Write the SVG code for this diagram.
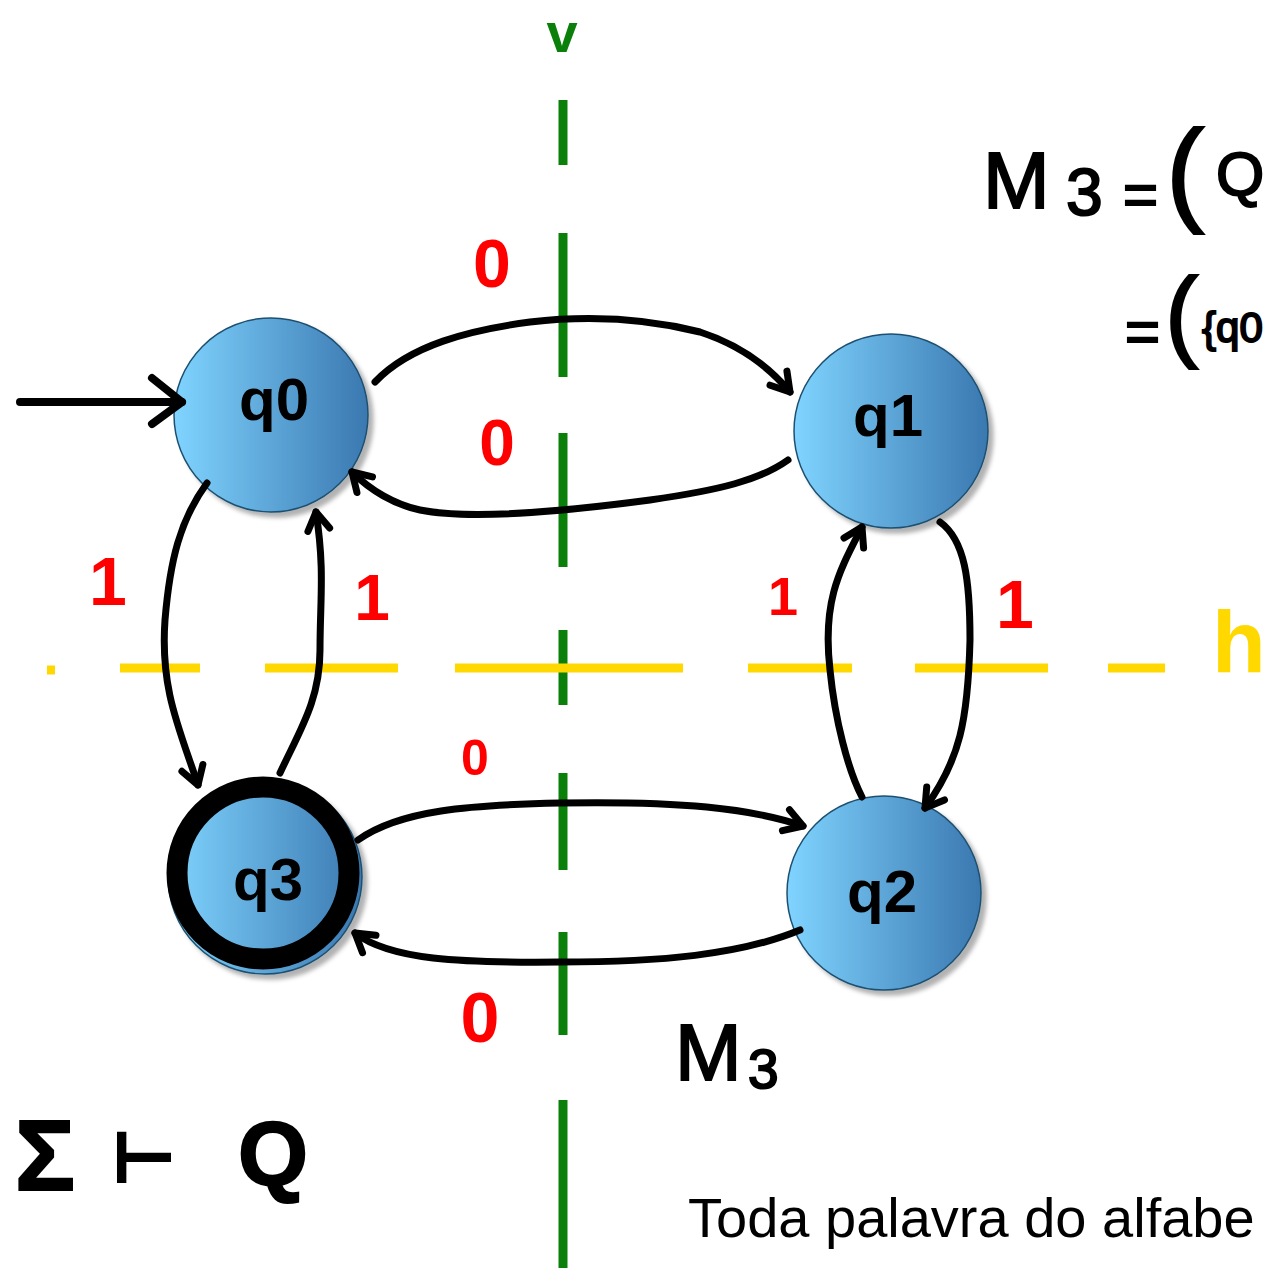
<svg xmlns="http://www.w3.org/2000/svg" width="1269" height="1268" viewBox="0 0 1269 1268">
<style>
.node{fill:url(#g);stroke:#1e5070;stroke-width:1.5;filter:url(#sh)}
.lbl{font-family:"Liberation Sans",Arial,sans-serif;font-weight:bold;font-size:60px;fill:#000;text-anchor:middle}
.edge{fill:none;stroke:#000;stroke-width:7;stroke-linecap:round;stroke-linejoin:round;marker-end:url(#ah)}
.red{font-family:"Liberation Sans",Arial,sans-serif;font-weight:bold;fill:#ff0000;text-anchor:middle}
.hand{font-family:"Liberation Sans","DejaVu Sans",sans-serif;fill:#000;stroke:#000;stroke-width:2}
.plain{font-family:"Liberation Sans",Arial,sans-serif;fill:#000}
.vline{fill:none;stroke:#0a800a;stroke-width:9}
.hline{fill:none;stroke:#ffd800;stroke-width:9}
</style>
<defs>
<linearGradient id="g" x1="0" y1="0" x2="1" y2="0">
<stop offset="0" stop-color="#80d4ff"/>
<stop offset="1" stop-color="#3a78b0"/>
</linearGradient>
<filter id="sh" x="-20%" y="-20%" width="150%" height="150%">
<feDropShadow dx="5" dy="5" stdDeviation="2" flood-color="#000" flood-opacity="0.3"/>
</filter>
<marker id="ah" viewBox="-4 -14 30 28" refX="20" refY="0" markerWidth="30" markerHeight="28" markerUnits="userSpaceOnUse" orient="auto" style="overflow:visible">
<path d="M2,-11 L20,0 L2,11" fill="none" stroke="#000" stroke-width="7" stroke-linecap="round" stroke-linejoin="round"/>
</marker>
<marker id="ahbig" viewBox="-4 -28 40 56" refX="30" refY="0" markerWidth="40" markerHeight="56" markerUnits="userSpaceOnUse" orient="auto" style="overflow:visible">
<path d="M0,-24 L30,0 L0,22" fill="none" stroke="#000" stroke-width="8" stroke-linecap="round" stroke-linejoin="round"/>
</marker>
</defs>
<rect width="1269" height="1268" fill="#fff"/>

<g id="axes">
<path class="vline" d="M563,100 V165 M563,233 V377 M563,433 V567 M563,630 V705 M563,773 V870 M563,932 V1035 M563,1100 V1268"/>
<path class="hline" d="M47,670 H55 M120,668 H200 M265,668 H398 M455,668 H683 M748,668 H852 M915,668 H1048 M1108,668 H1165"/>
<text x="562" y="52" font-family="Liberation Sans,sans-serif" font-weight="bold" font-size="56" fill="#0a800a" text-anchor="middle">v</text>
<text x="1212" y="672" font-family="Liberation Sans,sans-serif" font-weight="bold" font-size="88" fill="#ffd800">h</text>
</g>

<g id="q0"><circle class="node" cx="271" cy="415" r="97"/><text class="lbl" x="274" y="420">q0</text></g>
<g id="q1"><circle class="node" cx="891" cy="431" r="97"/><text class="lbl" x="888" y="436">q1</text></g>
<g id="q2"><circle class="node" cx="884" cy="893" r="97"/><text class="lbl" x="882" y="912">q2</text></g>
<g id="q3"><circle class="node" cx="265" cy="877" r="97"/><circle cx="263" cy="873" r="86" fill="none" stroke="#000" stroke-width="21"/><text class="lbl" x="268" y="900">q3</text></g>

<g id="connectors">
<path class="edge" style="marker-end:url(#ahbig);stroke-width:8" d="M20,402 L182,402"/>
<path class="edge" d="M375,382 C410,345 470,330 530,322 C600,314 660,322 700,332 C740,345 770,368 790,392"/>
<path class="edge" d="M788,460 C760,480 720,490 650,500 C560,512 470,520 420,510 C395,505 370,490 352,472"/>
<path class="edge" d="M207,483 C180,520 170,560 165,620 C160,690 180,730 198,785"/>
<path class="edge" d="M280,773 C300,730 320,700 320,650 C320,600 325,570 316,512"/>
<path class="edge" d="M862,797 C848,770 835,720 830,670 C822,600 840,570 862,527"/>
<path class="edge" d="M940,522 C965,540 970,580 970,640 C968,720 960,760 925,808"/>
<path class="edge" d="M358,840 C400,810 470,805 560,803 C680,801 750,808 803,826"/>
<path class="edge" d="M800,930 C740,955 660,962 560,962 C460,963 390,960 355,933"/>
</g>

<g id="edge-labels">
<text class="red" x="492" y="287" font-size="68">0</text>
<text class="red" x="497" y="465" font-size="64">0</text>
<text class="red" x="475" y="775" font-size="50">0</text>
<text class="red" x="480" y="1042" font-size="70">0</text>
<text class="red" x="108" y="605" font-size="68">1</text>
<text class="red" x="372" y="620" font-size="64">1</text>
<text class="red" x="783" y="615" font-size="54">1</text>
<text class="red" x="1015" y="628" font-size="68">1</text>
</g>

<g id="notes">
<text class="hand" font-size="80"><tspan x="983" y="208">M</tspan><tspan x="1066" y="215" font-size="66">3</tspan><tspan x="1123" y="215" font-size="60">=</tspan><tspan x="1166" y="210" font-size="115">(</tspan><tspan x="1216" y="195" font-size="62">Q</tspan></text>
<text class="hand" font-size="60"><tspan x="1125" y="352">=</tspan><tspan x="1165" y="348" font-size="100">(</tspan><tspan x="1202" y="342" font-size="42">{q0</tspan></text>
<text class="hand" font-size="80"><tspan x="675" y="1080">M</tspan><tspan x="748" y="1088" font-size="55">3</tspan></text>
<text class="hand" font-size="100" font-family="DejaVu Sans,sans-serif" font-weight="bold"><tspan x="15" y="1190">Σ</tspan><tspan x="112" y="1182" font-size="70">⊢</tspan><tspan x="238" y="1185" font-size="90">Q</tspan></text>
<text class="plain" x="688" y="1237" font-size="56">Toda palavra do alfabe</text>
</g>
</svg>
